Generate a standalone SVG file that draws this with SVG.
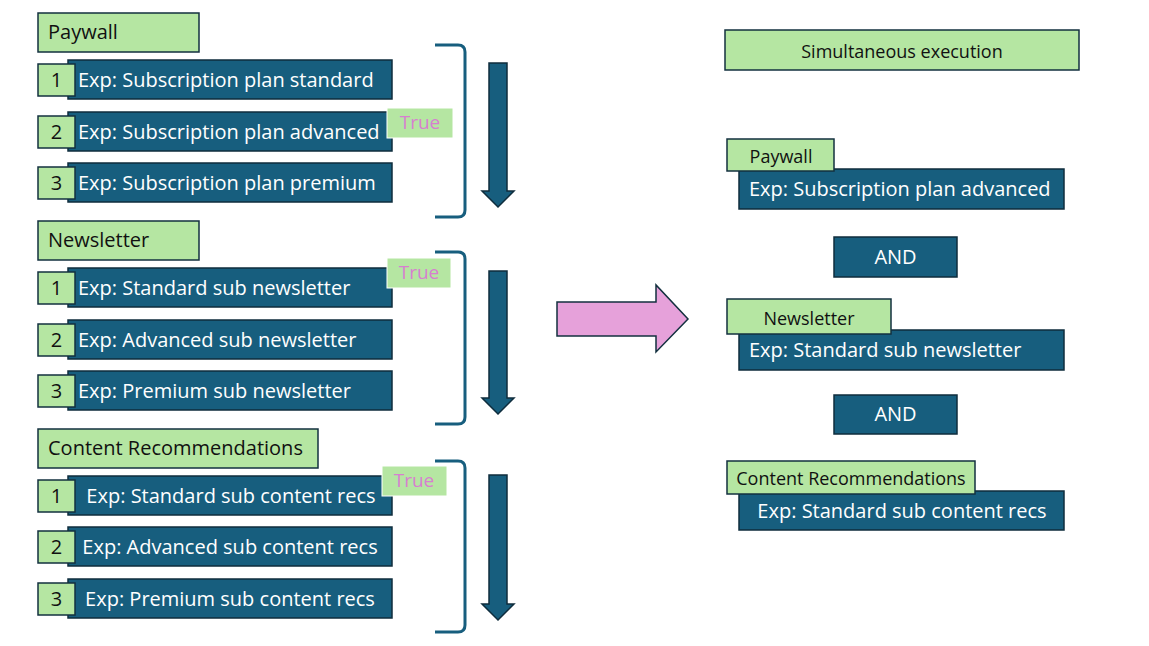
<svg xmlns="http://www.w3.org/2000/svg" width="1149" height="646" viewBox="0 0 1149 646">
<style>
.g{fill:#b5e6a2;stroke:#13303f;stroke-width:1.5}
.b{fill:#175e7e;stroke:#0f2d3d;stroke-width:1.5}
.t{fill:#b5e6a2;stroke:#ffffff;stroke-width:1}
.tk{font-family:"Open Sans","Liberation Sans",sans-serif;font-size:20px;fill:#111}
.tw{font-family:"Open Sans","Liberation Sans",sans-serif;font-size:20px;fill:#ffffff}
.ts{font-family:"Open Sans","Liberation Sans",sans-serif;font-size:18px;fill:#111}
.tp{font-family:"Open Sans","Liberation Sans",sans-serif;font-size:19px;fill:#d77fd0}
.br{fill:none;stroke:#175e7e;stroke-width:3}
.da{fill:#175e7e;stroke:#0f2d3d;stroke-width:1.5}
</style>
<rect width="1149" height="646" fill="#ffffff"/>

<g id="paywall">
<rect class="g" x="38" y="13" width="161" height="39"/>
<text class="tk" x="48" y="39">Paywall</text>
<rect class="b" x="68" y="60" width="324" height="39"/>
<rect class="g" x="38" y="64" width="37" height="32"/>
<text class="tk" x="56.5" y="87" text-anchor="middle">1</text>
<text class="tw" x="78" y="87">Exp: Subscription plan standard</text>
<rect class="b" x="68" y="112" width="324" height="39"/>
<rect class="g" x="38" y="116" width="37" height="32"/>
<text class="tk" x="56.5" y="139" text-anchor="middle">2</text>
<text class="tw" x="78" y="139">Exp: Subscription plan advanced</text>
<rect class="b" x="68" y="163" width="324" height="39"/>
<rect class="g" x="38" y="167" width="37" height="32"/>
<text class="tk" x="56.5" y="190" text-anchor="middle">3</text>
<text class="tw" x="78" y="190">Exp: Subscription plan premium</text>
<rect class="t" x="387" y="108" width="66" height="30"/>
<text class="tp" x="420" y="129" text-anchor="middle">True</text>
</g>

<g id="newsletter">
<rect class="g" x="38" y="221" width="161" height="39"/>
<text class="tk" x="48" y="247">Newsletter</text>
<rect class="b" x="68" y="268" width="324" height="39"/>
<rect class="g" x="38" y="272" width="37" height="32"/>
<text class="tk" x="56.5" y="295" text-anchor="middle">1</text>
<text class="tw" x="78" y="295">Exp: Standard sub newsletter</text>
<rect class="b" x="68" y="320" width="324" height="39"/>
<rect class="g" x="38" y="324" width="37" height="32"/>
<text class="tk" x="56.5" y="347" text-anchor="middle">2</text>
<text class="tw" x="78" y="347">Exp: Advanced sub newsletter</text>
<rect class="b" x="68" y="371" width="324" height="39"/>
<rect class="g" x="38" y="375" width="37" height="32"/>
<text class="tk" x="56.5" y="398" text-anchor="middle">3</text>
<text class="tw" x="78" y="398">Exp: Premium sub newsletter</text>
<rect class="t" x="387" y="258" width="64" height="30"/>
<text class="tp" x="419" y="279" text-anchor="middle">True</text>
</g>

<g id="content">
<rect class="g" x="38" y="429" width="280" height="39"/>
<text class="tk" x="48" y="455">Content Recommendations</text>
<rect class="b" x="68" y="476" width="324" height="39"/>
<rect class="g" x="38" y="480" width="37" height="32"/>
<text class="tk" x="56.5" y="503" text-anchor="middle">1</text>
<text class="tw" x="231" y="503" text-anchor="middle">Exp: Standard sub content recs</text>
<rect class="b" x="68" y="527" width="324" height="39"/>
<rect class="g" x="38" y="531" width="37" height="32"/>
<text class="tk" x="56.5" y="554" text-anchor="middle">2</text>
<text class="tw" x="230" y="554" text-anchor="middle">Exp: Advanced sub content recs</text>
<rect class="b" x="68" y="579" width="324" height="39"/>
<rect class="g" x="38" y="583" width="37" height="32"/>
<text class="tk" x="56.5" y="606" text-anchor="middle">3</text>
<text class="tw" x="230" y="606" text-anchor="middle">Exp: Premium sub content recs</text>
<rect class="t" x="382" y="466" width="65" height="30"/>
<text class="tp" x="414" y="487" text-anchor="middle">True</text>
</g>

<g id="connectors">
<path class="br" d="M435,45 L458,45 Q465,45 465,52 L465,210 Q465,217 458,217 L435,217"/>
<path class="br" d="M435,252 L458,252 Q465,252 465,259 L465,417 Q465,424 458,424 L435,424"/>
<path class="br" d="M435,461 L458,461 Q465,461 465,468 L465,625 Q465,632 458,632 L435,632"/>
<path class="da" d="M489,63 L507,63 L507,191 L514,191 L498,207 L482,191 L489,191 Z"/>
<path class="da" d="M489,271 L507,271 L507,398 L514,398 L498,414 L482,398 L489,398 Z"/>
<path class="da" d="M489,475 L507,475 L507,604 L514,604 L498,620 L482,604 L489,604 Z"/>
<path d="M557,302 L656,302 L656,285 L688,319 L656,352 L656,336 L557,336 Z" fill="#e6a1da" stroke="#13303f" stroke-width="1.5"/>
</g>

<g id="simultaneous">
<rect class="g" x="725" y="30" width="354" height="40"/>
<text class="ts" x="902" y="58" text-anchor="middle">Simultaneous execution</text>
</g>

<g id="r-paywall">
<rect class="b" x="739" y="169" width="325" height="40"/>
<rect class="g" x="727" y="139" width="107" height="32"/>
<text class="ts" x="781" y="163" text-anchor="middle">Paywall</text>
<text class="tw" x="749" y="196">Exp: Subscription plan advanced</text>
</g>

<g id="and1">
<rect class="b" x="834" y="237" width="123" height="40"/>
<text class="tw" x="895.5" y="264" text-anchor="middle">AND</text>
</g>

<g id="r-newsletter">
<rect class="b" x="739" y="330" width="325" height="40"/>
<rect class="g" x="727" y="299" width="164" height="35"/>
<text class="ts" x="809" y="325" text-anchor="middle">Newsletter</text>
<text class="tw" x="749" y="357">Exp: Standard sub newsletter</text>
</g>

<g id="and2">
<rect class="b" x="834" y="395" width="123" height="39"/>
<text class="tw" x="895.5" y="421" text-anchor="middle">AND</text>
</g>

<g id="r-content">
<rect class="b" x="739" y="491" width="325" height="39"/>
<rect class="g" x="727" y="461" width="248" height="33"/>
<text class="ts" x="851" y="485" text-anchor="middle">Content Recommendations</text>
<text class="tw" x="902" y="518" text-anchor="middle">Exp: Standard sub content recs</text>
</g>
</svg>
